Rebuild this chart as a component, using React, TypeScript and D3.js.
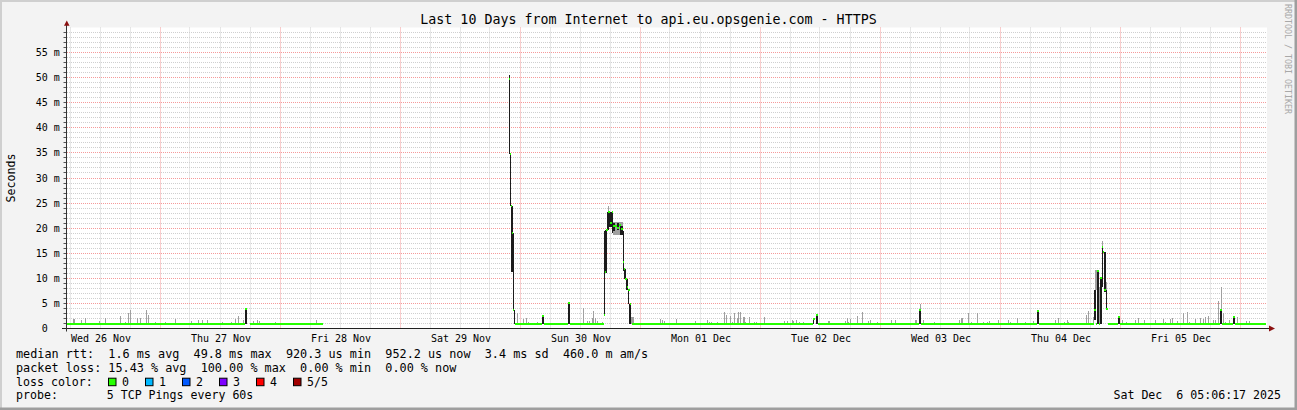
import React from 'react';
import * as d3 from 'd3';

// ---------- text ----------
const TITLE = 'Last 10 Days from Internet to api.eu.opsgenie.com - HTTPS';
const Y_LABEL = 'Seconds';
const WATERMARK = 'RRDTOOL / TOBI OETIKER';
const TIMESTAMP = 'Sat Dec  6 05:06:17 2025';
const LEGEND_LINES = [
  'median rtt:  1.6 ms avg  49.8 ms max  920.3 us min  952.2 us now  3.4 ms sd  460.0 m am/s',
  'packet loss: 15.43 % avg  100.00 % max  0.00 % min  0.00 % now',
];
const LOSS_LABEL = 'loss color:';
const LOSS_LEVELS = ['0', '1', '2', '3', '4', '5/5'];
const LOSS_COLORS = ['#26ff00', '#00b8ff', '#0059ff', '#7e00ff', '#ff0000', '#a10000'];
const PROBE_LINE = 'probe:       5 TCP Pings every 60s';

// ---------- axes ----------
// hours are counted from 2025-11-26 00:00
const T0 = Date.UTC(2025, 10, 26);
const X_START_H = 5.4;
const X_END_H = 245.4;
const Y_MAX_MS = 60;
const Y_TICKS_MS = [0, 5, 10, 15, 20, 25, 30, 35, 40, 45, 50, 55];
const DAY_LABELS = ['Wed 26 Nov', 'Thu 27 Nov', 'Fri 28 Nov', 'Sat 29 Nov', 'Sun 30 Nov', 'Mon 01 Dec', 'Tue 02 Dec', 'Wed 03 Dec', 'Thu 04 Dec', 'Fri 05 Dec'];

// ---------- data (ms) ----------
const BASE = 0.95;
// median: [hour, ms]; value holds until next point; null = no data
const median: [number, number | null][] = [
  [5.4, BASE], [41.0, 3.8], [41.3, null], [42.0, BASE], [56.66, null],
  [93.8, 49.8], [94.0, 34.8], [94.2, 24.4], [94.4, 19.0], [94.6, 3.6], [94.8, null],
  [95.0, BASE], [100.46, 2.5], [100.8, BASE], [105.66, 5.1], [106.0, BASE],
  [112.86, 2.6], [113.06, 11.3], [113.26, 19.6], [113.5, 23.2], [113.9, 21.0], [114.3, 23.2],
  [114.6, 20.4], [115.4, 20.0], [115.8, 20.6], [116.1, 19.8], [116.54, 13.2], [116.7, 11.8],
  [117.0, 9.9], [117.3, 8.2], [117.6, 7.7], [117.9, 4.9], [118.1, null],
  [118.34, BASE], [154.54, 1.8], [154.9, null], [155.14, 2.7], [155.56, BASE],
  [175.86, 3.6], [176.2, BASE], [199.46, 3.4], [199.8, BASE],
  [210.7, 3.7], [211.14, BASE], [211.46, 11.4], [211.8, BASE], [212.0, 10.1],
  [212.34, 16.3], [212.5, 15.3], [212.7, 7.6], [213.1, 3.9], [213.5, BASE],
  [215.54, 2.3], [216.0, BASE], [235.9, 3.7], [236.4, BASE], [238.66, 2.3], [239.0, BASE],
  [245.2, null],
];

// dark smoke: [hourFrom, hourTo, lowMs, highMs]
const darkBands: [number, number, number, number][] = [
  [41.0, 41.4, BASE, 3.8],
  [93.8, 94.0, 34.8, 50.5], [94.0, 94.2, 24.4, 34.8], [94.2, 94.6, 11.2, 24.4],
  [94.6, 94.8, 3.6, 19.0], [94.8, 95.0, BASE, 3.6],
  [100.46, 100.8, BASE, 2.5], [105.66, 106.0, BASE, 5.1],
  [112.86, 113.06, 2.6, 19.5], [113.06, 113.46, 11.0, 19.6], [113.46, 113.8, 19.6, 23.2],
  [113.8, 114.34, 20.2, 23.2], [114.34, 114.66, 19.0, 23.2],
  [114.66, 115.0, 19.4, 21.0], [115.4, 115.8, 19.6, 21.0],
  [116.0, 116.54, 18.6, 20.5],
  [116.54, 116.86, 11.5, 19.5], [116.86, 117.1, 9.9, 11.8], [117.1, 117.6, 7.6, 9.9],
  [117.6, 117.8, 4.9, 7.7], [117.8, 118.1, BASE, 4.9],
  [154.54, 154.86, BASE, 1.8], [155.14, 155.54, BASE, 2.7],
  [175.86, 176.2, BASE, 3.6], [199.46, 199.8, BASE, 3.4],
  [210.76, 211.14, 1.6, 7.7], [211.46, 211.8, BASE, 11.4], [212.0, 212.34, BASE, 10.1],
  [212.34, 212.66, 8.2, 16.3], [212.7, 213.1, 7.2, 15.3], [213.1, 213.46, 3.9, 7.6],
  [215.54, 216.0, BASE, 2.3], [235.9, 236.4, BASE, 3.7], [238.66, 239.0, BASE, 2.3],
];

// light smoke bands: [hourFrom, hourTo, lowMs, highMs]
const smokeBands: [number, number, number, number][] = [
  [93.8, 94.0, 49.8, 50.6], [113.5, 113.8, 23.2, 24.4], [114.6, 116.6, 18.6, 21.2],
  [118.0, 118.7, BASE, 2.3], [211.1, 211.3, 7.7, 11.6], [211.8, 212.0, BASE, 8.2],
  [212.4, 212.6, 16.3, 17.4], [213.2, 213.4, 3.9, 9.2],
];

// light smoke spikes above the median: [hour, topMs]
const smokeTicks: [number, number][] = [
  [6.54, 1.9], [6.86, 1.9], [8.14, 1.7], [9.0, 2.0], [11.86, 1.55], [13.0, 2.0], [16.0, 2.5],
  [17.0, 1.3], [17.66, 3.0], [18.0, 3.7], [19.46, 2.0], [20.0, 2.0], [21.2, 3.7], [21.66, 2.6],
  [23.0, 1.35], [25.0, 1.35], [27.0, 1.8], [30.2, 1.5], [31.66, 1.7], [32.46, 1.7], [33.34, 1.7],
  [36.34, 1.35], [38.14, 1.35], [39.0, 1.9], [39.66, 2.5], [40.54, 1.7], [42.66, 1.5],
  [43.46, 1.7], [43.74, 1.55], [47.0, 1.35], [55.14, 1.7],
  [95.46, 3.0], [96.66, 1.8], [97.2, 2.0], [97.66, 1.35], [99.34, 1.35],
  [108.66, 4.1], [109.34, 1.5], [109.86, 1.5], [110.34, 2.0], [110.66, 3.4], [111.0, 2.0],
  [111.34, 1.5], [112.46, 1.35],
  [124.0, 1.8], [124.34, 1.7], [124.86, 1.5], [127.2, 1.9], [131.06, 1.5], [133.46, 1.7],
  [133.86, 1.35], [134.14, 1.35], [135.46, 1.35], [136.86, 3.35], [137.2, 2.7], [138.0, 2.5],
  [138.34, 1.35], [138.86, 3.0], [139.34, 2.0], [139.66, 3.2], [140.0, 3.2], [140.54, 2.2],
  [140.8, 2.2], [141.0, 1.35], [141.86, 2.35], [142.86, 1.35], [143.2, 1.35], [144.8, 2.35],
  [148.86, 1.5], [149.34, 1.5], [150.34, 1.7], [150.66, 1.5], [151.14, 1.7], [151.8, 1.35],
  [152.66, 1.35], [155.34, 2.8], [157.66, 1.5], [157.86, 1.5], [161.0, 1.5], [161.34, 2.0],
  [161.66, 1.35], [162.0, 1.9], [163.34, 2.55], [164.46, 3.35], [165.66, 1.5], [166.0, 1.7],
  [167.34, 1.35], [170.2, 1.7], [171.0, 1.7], [175.0, 1.7], [175.14, 1.7],
  [176.06, 4.9], [176.66, 1.7], [178.86, 1.35], [183.86, 1.7], [184.2, 2.0], [184.46, 2.0],
  [185.66, 3.15], [186.2, 1.35], [187.46, 3.15], [188.66, 1.35], [189.34, 1.35], [189.86, 1.5],
  [191.54, 1.7], [193.66, 1.7], [194.0, 1.35], [195.46, 2.0], [197.0, 1.35], [198.54, 1.5],
  [203.0, 1.7], [203.54, 2.0], [204.86, 1.35], [205.34, 1.7], [205.66, 1.35], [209.2, 2.7],
  [209.66, 3.5], [210.54, 2.35],
  [216.34, 1.7], [217.2, 1.35], [219.0, 1.7], [219.66, 2.0],
  [220.86, 1.7], [223.0, 1.7], [224.66, 1.8], [225.0, 1.35], [226.0, 1.8], [226.34, 2.0],
  [227.46, 1.5], [228.66, 3.0], [229.34, 3.2], [229.86, 1.35], [231.0, 1.9], [232.0, 2.0],
  [232.66, 1.8], [233.0, 2.35], [233.66, 2.5], [234.54, 1.7], [235.0, 1.7], [235.6, 5.5],
  [236.26, 8.3], [236.54, 3.0], [237.0, 1.35], [237.86, 1.7], [239.34, 2.35], [241.2, 1.55],
  [241.8, 1.55],
];

const FONT = '"DejaVu Sans Mono", monospace';
const W = 1297;
const H = 410;

const hDate = (h: number) => new Date(T0 + h * 3600e3);
const crisp = (v: number) => Math.floor(v) + 0.5;

export default function App() {
  const x = d3.scaleUtc().domain([hDate(X_START_H), hDate(X_END_H)]).range([67, 1267]);
  const y = d3.scaleLinear().domain([0, Y_MAX_MS]).range([328.5, 27.5]);
  const [x0, x1] = x.range();
  const yTop = y(Y_MAX_MS);
  const y0 = y(0);
  const px = (h: number) => Math.round(x(hDate(h)));
  const py = (v: number) => Math.round(y(v));

  const midnights = d3.utcDay.range(x.domain()[0], x.domain()[1]).filter(d => x(d) > x0);
  const sixHours = d3.utcHour.every(6)!.range(x.domain()[0], x.domain()[1])
    .filter(d => d.getUTCHours() !== 0 && x(d) > x0);
  const minorY = d3.range(1, Y_MAX_MS).filter(v => v % 5 !== 0);
  const majorY = d3.range(5, Y_MAX_MS, 5);
  const noonDays = DAY_LABELS.map((_, i) => hDate(12 + 24 * i));

  const medianPaths: string[] = [];
  for (let i = 0; i < median.length - 1; i++) {
    const [h, v] = median[i];
    if (v === null) continue;
    const [hn] = median[i + 1];
    medianPaths.push(`M${px(h)},${py(v)}H${Math.max(px(hn), px(h) + 1)}`);
  }

  const tickW = 0.2; // hours (one pixel column)

  return (
    <div style={{ position: 'absolute', left: 0, top: 0 }}>
      <svg width={W} height={H} style={{ display: 'block', fontFamily: FONT }}>
        <rect x={0} y={0} width={W} height={H} fill="#f3f3f3" />
        <rect x={0} y={0} width={W} height={2} fill="#cfcfcf" />
        <rect x={0} y={0} width={2} height={H} fill="#cfcfcf" />
        <rect x={0} y={H - 2.5} width={W} height={2.5} fill="#9e9e9e" />
        <rect x={W - 2.5} y={0} width={2.5} height={H} fill="#9e9e9e" />

        {/* canvas */}
        <rect x={x0} y={yTop} width={x1 - x0} height={y0 - yTop} fill="#ffffff" />

        {/* grid */}
        <g strokeWidth={1} strokeDasharray="1,1" fill="none">
          {minorY.map(v => (
            <line key={'my' + v} x1={x0} x2={x1} y1={crisp(y(v))} y2={crisp(y(v))} stroke="#cfcfcf" />
          ))}
          {sixHours.map(d => (
            <line key={'mx' + +d} x1={crisp(x(d))} x2={crisp(x(d))} y1={yTop} y2={y0} stroke="#cfcfcf" />
          ))}
          {majorY.map(v => (
            <line key={'My' + v} x1={x0} x2={x1} y1={crisp(y(v))} y2={crisp(y(v))} stroke="#f59a9a" />
          ))}
          {midnights.map(d => (
            <line key={'Mx' + +d} x1={crisp(x(d))} x2={crisp(x(d))} y1={yTop} y2={y0} stroke="#f59a9a" />
          ))}
        </g>
        {/* y ticks */}
        <g stroke="#555" strokeWidth={1}>
          {d3.range(1, Y_MAX_MS).map(v => (
            <line key={'t' + v} x1={63.5} x2={67} y1={crisp(y(v))} y2={crisp(y(v))} />
          ))}
        </g>

        {/* smoke */}
        <g fill="#a0a0a0" shapeRendering="crispEdges">
          {smokeBands.map(([a, b, lo, hi], i) => (
            <rect key={'sb' + i} x={px(a)} width={Math.max(1, px(b) - px(a))} y={py(hi)} height={py(lo) - py(hi)} />
          ))}
          {smokeTicks.map(([h, hi], i) => (
            <rect key={'st' + i} x={px(h)} width={Math.max(1, px(h + tickW) - px(h))} y={py(hi)} height={py(BASE) - py(hi)} />
          ))}
        </g>
        <g fill="#1c1c1c" shapeRendering="crispEdges">
          {darkBands.map(([a, b, lo, hi], i) => (
            <rect key={'db' + i} x={px(a)} width={Math.max(1, px(b) - px(a))} y={py(hi)} height={py(lo) - py(hi)} />
          ))}
        </g>
        {/* median */}
        <g stroke={LOSS_COLORS[0]} strokeWidth={2} fill="none" shapeRendering="crispEdges">
          {medianPaths.map((p, i) => <path key={'m' + i} d={p} />)}
        </g>

        {/* axes */}
        <line x1={62} x2={1270} y1={y0} y2={y0} stroke="#222" strokeWidth={1} />
        <line x1={66.5} x2={66.5} y1={331.5} y2={24} stroke="#333" strokeWidth={1} />
        <polygon points="64,25.7 69.5,25.7 66.8,20.5" fill="#8b1010" />
        <polygon points={`1269,${y0 - 3} 1269,${y0 + 3} 1275,${y0}`} fill="#8b1010" />

        {/* y tick labels */}
        <g fontSize={10} fill="#000" textAnchor="end">
          {Y_TICKS_MS.map(v => (
            <text key={'yl' + v} x={v === 0 ? 47.7 : 59.8} y={crisp(y(v)) + 3.5}>
              {v === 0 ? '0' : `${v} m`}
            </text>
          ))}
        </g>
        {/* x tick labels */}
        <g fontSize={10} fill="#000" textAnchor="middle">
          {noonDays.map((d, i) => (
            <text key={'xl' + i} x={x(d) + 1} y={341.5}>{DAY_LABELS[i]}</text>
          ))}
        </g>

        {/* title and labels */}
        <text x={648.5} y={23.5} fontSize={13.3} textAnchor="middle" fill="#000">{TITLE}</text>
        <text transform={`translate(14.5,${(yTop + y0) / 2}) rotate(-90)`} fontSize={11.6} textAnchor="middle" fill="#000">{Y_LABEL}</text>
        <text transform={`translate(1284.5,4) rotate(90)`} fontSize={8.3} fill="#a8a8a8">{WATERMARK}</text>

        {/* legend */}
        <g fontSize={11.6} fill="#000" style={{ whiteSpace: 'pre' }}>
          {LEGEND_LINES.map((l, i) => (
            <text key={'lg' + i} x={16} y={358 + i * 13.8} fontSize={11.8} xmlSpace="preserve">{l}</text>
          ))}
          <text x={16} y={385.6}>{LOSS_LABEL}</text>
          {LOSS_LEVELS.map((lv, i) => (
            <g key={'ll' + i}>
              <rect x={108.5 + i * 37} y={378.2} width={7.5} height={7.5} fill={LOSS_COLORS[i]} stroke="#000" strokeWidth={1} />
              <text x={122 + i * 37} y={385.6}>{lv}</text>
            </g>
          ))}
          <text x={16} y={399.4} xmlSpace="preserve">{PROBE_LINE}</text>
          <text x={1281} y={399.4} textAnchor="end" xmlSpace="preserve">{TIMESTAMP}</text>
        </g>
      </svg>
    </div>
  );
}
